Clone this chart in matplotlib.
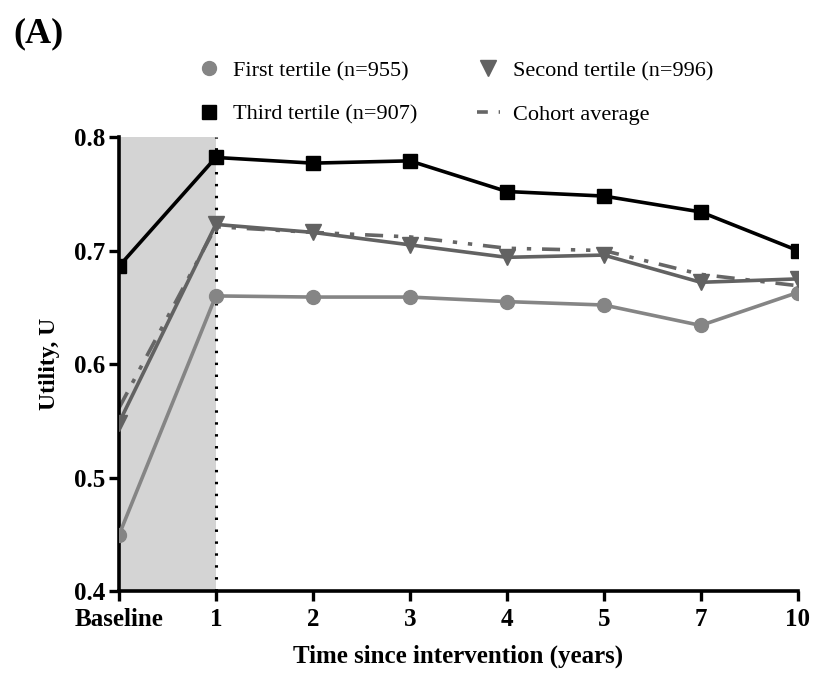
import matplotlib.pyplot as plt
from matplotlib.lines import Line2D

# Data
time_labels = ['Baseline', '1', '2', '3', '4', '5', '7', '10']
first_tertile = [0.449, 0.660, 0.659, 0.659, 0.655, 0.652, 0.634, 0.663]
second_tertile = [0.548, 0.723, 0.716, 0.705, 0.694, 0.696, 0.672, 0.675]
third_tertile = [0.686, 0.782, 0.777, 0.779, 0.752, 0.748, 0.734, 0.700]
cohort_average = [0.561, 0.721, 0.716, 0.712, 0.702, 0.700, 0.679, 0.669]

plt.rcParams['font.family'] = ['Liberation Serif', 'DejaVu Serif']

fig = plt.figure(figsize=(8.14, 6.75), dpi=100)
ax = fig.add_axes([0.146, 0.1244, 0.834, 0.6726])

x = list(range(len(time_labels)))

# shaded baseline -> year 1 period, dotted line at year 1
ax.axvspan(0, 1, color='#d4d4d4', zorder=0, lw=0)
ax.axvline(1, color='black', ls=(0, (0.8, 3.1)), lw=2.2, zorder=1)

ax.plot(x, cohort_average, color='#666666', lw=2.6,
        ls=(0, (5, 3, 1.2, 3, 1.2, 3)), zorder=2)
ax.plot(x, first_tertile, color='#858585', lw=2.6, marker='o', ms=10, zorder=3)
ax.plot(x, second_tertile, color='#626262', lw=2.6, marker='v', ms=11, zorder=4)
ax.plot(x, third_tertile, color='black', lw=2.6, marker='s', ms=10, zorder=5)

ax.set_xlim(0, len(time_labels) - 1)
ax.set_ylim(0.4, 0.8)
ax.set_xticks(x)
ax.set_xticklabels(time_labels)
ax.set_yticks([0.4, 0.5, 0.6, 0.7, 0.8])
ax.set_yticklabels(['0.4', '0.5', '0.6', '0.7', '0.8'])

for side in ['top', 'right']:
    ax.spines[side].set_visible(False)
for side in ['left', 'bottom']:
    ax.spines[side].set_linewidth(2.6)
ax.tick_params(axis='both', direction='out', length=7, width=2.4, labelsize=18, pad=3)
ax.tick_params(axis='x', pad=5)
for lbl in ax.get_xticklabels() + ax.get_yticklabels():
    lbl.set_fontweight('bold')

ax.set_xlabel('Time since intervention (years)', fontsize=18, fontweight='bold', labelpad=10)
ax.set_ylabel('Utility, U', fontsize=17, fontweight='bold', labelpad=10)

# legend: markers only for the tertiles
handles = [
    Line2D([], [], ls='none', marker='o', ms=10, color='#858585'),
    Line2D([], [], ls='none', marker='s', ms=10, color='black'),
    Line2D([], [], ls='none', marker='v', ms=11, color='#626262'),
    Line2D([], [], lw=2.6, color='#666666', ls=(0, (3, 3, 1.2, 3))),
]
labels = ['First tertile (n=955)', 'Third tertile (n=907)',
          'Second tertile (n=996)', 'Cohort average']
fig.legend(handles, labels, ncol=2, frameon=False, fontsize=16,
           loc='upper left', bbox_to_anchor=(0.218, 0.94),
           handlelength=1.0, handletextpad=0.6, columnspacing=2.7,
           labelspacing=1.05)

fig.text(0.016, 0.975, '(A)', fontsize=26, fontweight='bold', va='top', ha='left')

fig.savefig('out.png', dpi=100)
